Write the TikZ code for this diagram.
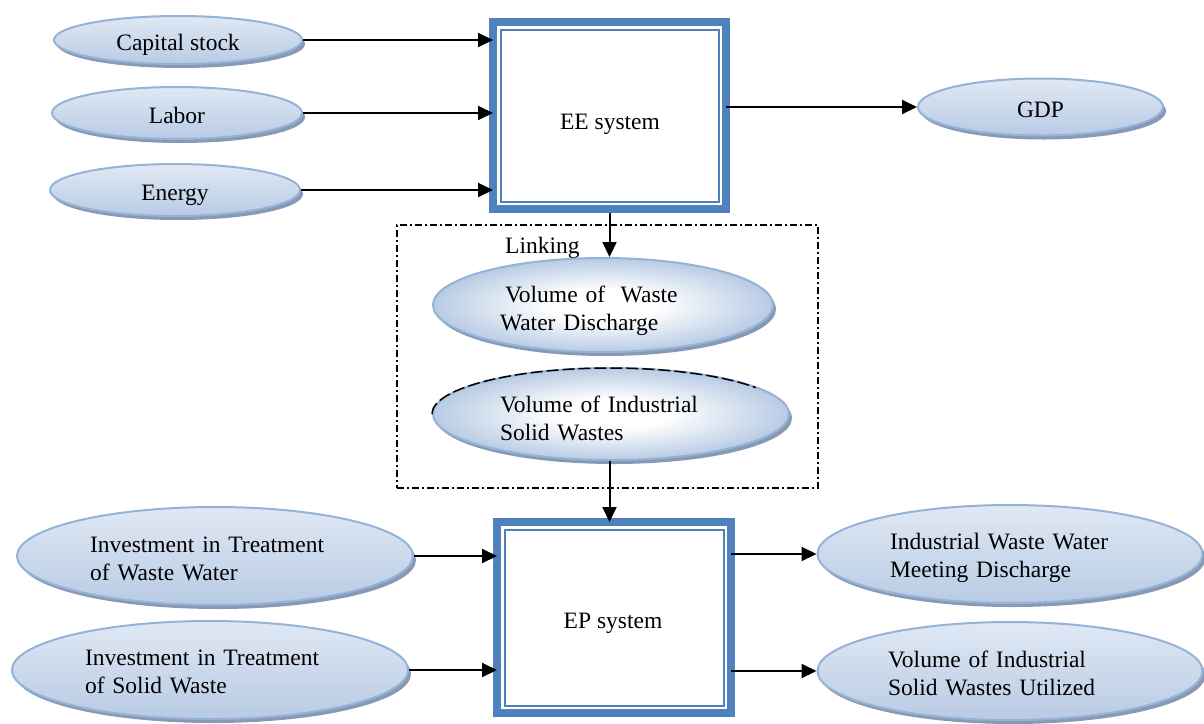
\documentclass[tikz,border=0pt]{standalone}
\usepackage{fontspec}
\setmainfont{Liberation Serif}
\usetikzlibrary{shapes.geometric,shadows,arrows.meta,calc}
\definecolor{boxblue}{RGB}{79,129,189}
\definecolor{elborder}{RGB}{149,179,215}
\definecolor{eltop}{RGB}{224,232,244}
\definecolor{elmid}{RGB}{238,243,250}
\definecolor{elbot}{RGB}{184,203,228}
\definecolor{shadowc}{RGB}{135,153,180}
\pgfdeclareradialshading{ovalrad}{\pgfpoint{0bp}{0bp}}{color(0bp)=(white); color(8bp)=(white); color(25bp)=(elbot); color(50bp)=(elbot)}
\newcommand{\topstrut}[1]{\rule{0pt}{#1}}
\begin{document}
\begin{tikzpicture}[x=1pt,y=-1pt,
  every node/.style={font=\fontsize{23.5}{28}\selectfont},
  ovalbase/.style={ellipse, draw=elborder, line width=2pt, inner sep=0pt,
    drop shadow={shadow xshift=3pt, shadow yshift=-4pt, fill=shadowc, opacity=1}},
  oval/.style={ovalbase, top color=eltop, middle color=elmid, bottom color=elbot},
  oneline/.style={text height=20pt, text depth=0pt},
  ovalr/.style={ovalbase, shading=ovalrad},
  sysbox/.style={rectangle, draw=boxblue, line width=8pt, fill=white, outer sep=0pt, inner sep=0pt},
  innerline/.style={draw=boxblue, line width=2pt},
  arr/.style={line width=2pt, -{Triangle[length=15pt,width=14pt]}},
  linkframe/.style={draw=black, line width=1.3pt, dash pattern=on 7pt off 3pt on 2pt off 3pt, inner sep=0pt},
  lbl/.style={inner sep=0pt}
]
\useasboundingbox (0,0) rectangle (1204,723);
\fill[white] (0,0) rectangle (1204,723);

% boxes
\node[sysbox, minimum width=233pt, minimum height=187pt] (EE) at (609.5,115.5) {};
\draw[innerline] ([xshift=7.5pt,yshift=-7.5pt]EE.north west) rectangle ([xshift=-7.5pt,yshift=7.5pt]EE.south east);
\node[lbl] (EEtxt) at (610,124) {EE system};

\node[sysbox, minimum width=234pt, minimum height=191pt] (EP) at (614,617.5) {};
\draw[innerline] ([xshift=7.5pt,yshift=-7.5pt]EP.north west) rectangle ([xshift=-7.5pt,yshift=7.5pt]EP.south east);
\node[lbl] (EPtxt) at (613,623) {EP system};

% linking frame
\node[linkframe, minimum width=421pt, minimum height=263pt] (link) at (607.5,356.5) {};
\node[lbl, anchor=base west] (linktxt) at (505,253) {Linking};

% input ellipses
\node[oval, oneline, minimum width=248pt, minimum height=48pt] (cap) at (178,40) {Capital stock};
\node[oval, oneline, minimum width=250pt, minimum height=52pt] (lab) at (177,113) {Labor};
\node[oval, oneline, minimum width=250pt, minimum height=52pt] (ene) at (175,190) {Energy};
\node[oval, oneline, minimum width=245pt, minimum height=57pt] (gdp) at (1040.5,107) {GDP};

% linking ellipses
\node[ovalr, minimum width=340pt, minimum height=94pt, text width=206pt, align=left] (wwd) at (603,305)
  {\topstrut{28pt}\hspace*{5pt}Volume of\ \ Waste\\Water Discharge};
\node[ovalr, minimum width=356pt, minimum height=92pt, text width=222pt, align=left] (isw) at (611,414)
  {\topstrut{26pt}Volume of Industrial\\Solid Wastes};
\draw[black, line width=1.5pt, dash pattern=on 12pt off 4pt]
  (isw.west) arc[start angle=180, end angle=35, x radius=178pt, y radius=46pt];

% lower ellipses
\node[oval, minimum width=396pt, minimum height=98pt, text width=250pt, align=left] (iww) at (215,556)
  {\topstrut{22pt}Investment in Treatment\\of Waste Water};
\node[oval, minimum width=396pt, minimum height=98pt, text width=250pt, align=left] (isd) at (210,670)
  {\topstrut{20pt}Investment in Treatment\\of Solid Waste};
\node[oval, minimum width=385pt, minimum height=98pt, text width=240pt, align=left] (iwd) at (1010,554)
  {\topstrut{24pt}Industrial Waste Water\\Meeting Discharge};
\node[oval, minimum width=385pt, minimum height=98pt, text width=244pt, align=left] (vsu) at (1010,671)
  {\topstrut{22pt}Volume of Industrial\\Solid Wastes Utilized};

% connectors
\draw[arr] (cap.east) -- (cap.east -| EE.west);
\draw[arr] (lab.east) -- (lab.east -| EE.west);
\draw[arr] (ene.east) -- (ene.east -| EE.west);
\draw[arr] (gdp.west -| EE.east) -- (gdp.west);
\draw[arr] ([yshift=-4pt]EE.south) -- (EE.south |- wwd.north);
\draw[arr] (isw.south -| EE.south) -- (EP.north -| EE.south);
\draw[arr] (iww.east) -- (iww.east -| EP.west);
\draw[arr] (isd.east) -- (isd.east -| EP.west);
\draw[arr] (iwd.west -| EP.east) -- (iwd.west);
\draw[arr] (vsu.west -| EP.east) -- (vsu.west);
\end{tikzpicture}
\end{document}
